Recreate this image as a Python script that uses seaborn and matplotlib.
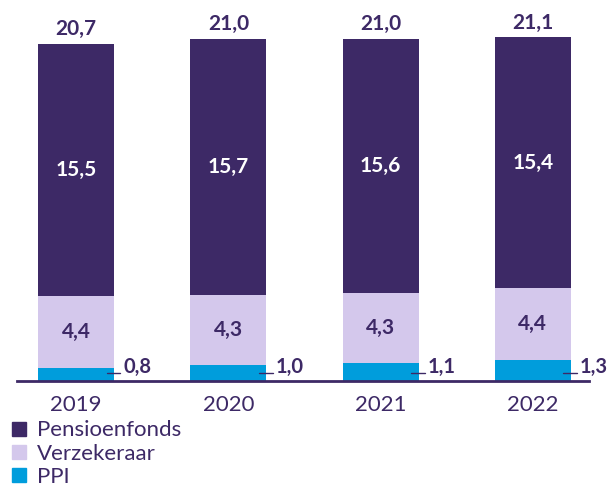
import matplotlib
matplotlib.use("Agg")
import matplotlib.pyplot as plt
import seaborn as sns
import pandas as pd
from matplotlib.patches import Patch

years = ["2019", "2020", "2021", "2022"]
ppi = [0.8, 1.0, 1.1, 1.3]
verzekeraar = [4.4, 4.3, 4.3, 4.4]
pensioenfonds = [15.5, 15.7, 15.6, 15.4]
totals = [20.7, 21.0, 21.0, 21.1]

c_pens = "#3d2966"
c_verz = "#d4c8ec"
c_ppi = "#009ddc"

sns.set_style("white")
plt.rcParams['font.family'] = ['Lato', 'DejaVu Sans']

df = pd.DataFrame({"year": years, "ppi": ppi, "verz": verzekeraar, "pens": pensioenfonds})
df["lvl2"] = df["ppi"] + df["verz"]
df["lvl3"] = df["lvl2"] + df["pens"]

fig = plt.figure(figsize=(6.09, 4.86), dpi=100)
ax = fig.add_axes([0.0, 0.216, 1.0, 0.784])

sns.barplot(data=df, x="year", y="lvl3", color=c_pens, width=0.5, ax=ax, saturation=1, edgecolor="none")
sns.barplot(data=df, x="year", y="lvl2", color=c_verz, width=0.5, ax=ax, saturation=1, edgecolor="none")
sns.barplot(data=df, x="year", y="ppi", color=c_ppi, width=0.5, ax=ax, saturation=1, edgecolor="none")

ax.set_xlim(-0.5, 3.5)
ax.set_ylim(0, 23.4)
for s in ["top", "right", "left"]:
    ax.spines[s].set_visible(False)
ax.spines["bottom"].set_color(c_pens)
ax.spines["bottom"].set_linewidth(2)
ax.spines["bottom"].set_bounds(-0.39, 3.37)
ax.set_yticks([])
ax.set_xlabel("")
ax.set_ylabel("")
ax.tick_params(axis="x", length=0, pad=10, labelsize=16, labelcolor=c_pens)

fmt = lambda v: f"{v:.1f}".replace(".", ",")
for i in range(len(years)):
    tot = df["lvl3"][i]
    ax.text(i, tot + 0.3, fmt(totals[i]), ha="center", va="bottom",
            fontsize=15, fontweight="bold", color=c_pens)
    ax.text(i, df["lvl2"][i] + pensioenfonds[i] / 2, fmt(pensioenfonds[i]), ha="center", va="center",
            fontsize=15, fontweight="bold", color="white")
    ax.text(i, ppi[i] + verzekeraar[i] / 2, fmt(verzekeraar[i]), ha="center", va="center",
            fontsize=15, fontweight="bold", color=c_pens)
    ax.plot([i + 0.2, i + 0.29], [0.49, 0.49], color=c_pens, lw=1)
    ax.text(i + 0.31, 0.86, fmt(ppi[i]), ha="left", va="center",
            fontsize=14.5, fontweight="bold", color=c_pens)

handles = [Patch(color=c_pens, label="Pensioenfonds"),
           Patch(color=c_verz, label="Verzekeraar"),
           Patch(color=c_ppi, label="PPI")]
leg = fig.legend(handles=handles, loc="upper left", bbox_to_anchor=(0.02, 0.135), frameon=False,
                 fontsize=16, handlelength=0.6, handleheight=0.6, handletextpad=0.5,
                 labelspacing=0.15, borderaxespad=0, borderpad=0)
for t in leg.get_texts():
    t.set_color(c_pens)

fig.savefig("out.png", dpi=100)
